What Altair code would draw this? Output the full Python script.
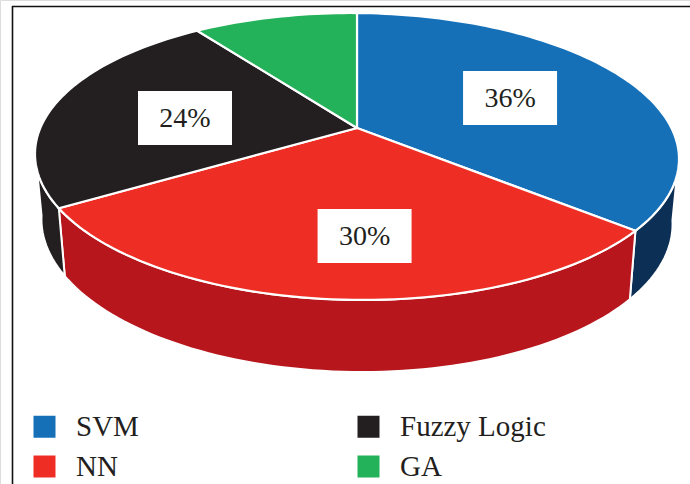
import math

import altair as alt
import pandas as pd

# Market share of each technique, clockwise from twelve o'clock.
methods = ["SVM", "NN", "Fuzzy Logic", "GA"]
shares = [36, 30, 24, 10]
top_colors = ["#1570b8", "#ee2d24", "#231f20", "#23b15a"]
wall_colors = ["#0c2f55", "#b7161c", "#231f20"]
wall_methods = ["SVM", "NN", "Fuzzy Logic"]

labelled_methods = ["SVM", "NN", "Fuzzy Logic"]
label_texts = ["36%", "30%", "24%"]

# Where each label box sits on the tilted disc, in disc units.
label_x = [0.485, 0.024, -0.545]
label_y = [-0.217, 0.784, -0.073]

# Perspective of the disc: foreshortening of the upper face and of the base.
TILT = 0.1986
ROLL = 0.018
BASE_X_SCALE = 0.98
BASE_Y_SCALE = 144.5 / 137.8
BASE_Y_SHIFT = (191.7 - 128) / 137.8

# The side wall is only seen between these bearings.
WALL_FROM = {"SVM": 100.0, "NN": None, "Fuzzy Logic": None}
WALL_TO = {"SVM": None, "NN": None, "Fuzzy Logic": 260.0}

PX_PER_X = 315.6
PX_PER_Y = 137.8
CENTRE_X = 357
CENTRE_Y = 128


def rim(angle, x_scale=1.0, y_scale=1.0, y_shift=0.0):
    rad = math.radians(angle)
    u, v = math.sin(rad), -math.cos(rad)
    depth = 1 - TILT * v
    x = x_scale * u / depth
    return x, y_shift + y_scale * v / depth + ROLL * x


def sweep(start, end, step=1.5):
    n = max(2, int(abs(end - start) / step) + 1)
    return [start + (end - start) * i / (n - 1) for i in range(n)]


edges = [0.0]
for share in shares:
    edges.append(edges[-1] + share * 3.6)

top_rows = []
wall_rows = []
for i, method in enumerate(methods):
    start, end = edges[i], edges[i + 1]
    outline = [(0.0, 0.0)] + [rim(a) for a in sweep(start, end)] + [(0.0, 0.0)]
    for k, (x, y) in enumerate(outline):
        top_rows.append({"method": method, "k": k, "x": x, "y": y})
    if method in wall_methods:
        a0 = WALL_FROM[method] if WALL_FROM[method] is not None else start
        a1 = WALL_TO[method] if WALL_TO[method] is not None else end
        angles = sweep(a0, a1)
        outline = [rim(a) for a in angles]
        outline += [rim(a, BASE_X_SCALE, BASE_Y_SCALE, BASE_Y_SHIFT) for a in reversed(angles)]
        outline.append(outline[0])
        for k, (x, y) in enumerate(outline):
            wall_rows.append({"method": method, "k": k, "x": x, "y": y})

top_df = pd.DataFrame(top_rows)
wall_df = pd.DataFrame(wall_rows)
label_df = pd.DataFrame(
    {"method": labelled_methods, "text": label_texts, "x": label_x, "y": label_y}
)

W, H = 690, 484
x_enc = alt.X(
    "x:Q",
    axis=None,
    scale=alt.Scale(
        domain=[-CENTRE_X / PX_PER_X, (W - CENTRE_X) / PX_PER_X], nice=False, zero=False
    ),
)
y_enc = alt.Y(
    "y:Q",
    axis=None,
    scale=alt.Scale(
        domain=[-CENTRE_Y / PX_PER_Y, (H - CENTRE_Y) / PX_PER_Y],
        nice=False,
        zero=False,
        reverse=True,
    ),
)

layers = []

# Side walls go first so the upper face can overlap them.
for method, color in zip(wall_methods, wall_colors):
    layers.append(
        alt.Chart(wall_df[wall_df.method == method])
        .mark_line(fill=color, stroke="white", strokeWidth=2)
        .encode(x=x_enc, y=y_enc, order="k:Q")
    )

# Upper face of the disc, one filled outline per technique.
layers.append(
    alt.Chart(top_df)
    .mark_line(stroke="white", strokeWidth=2.2)
    .encode(
        x=x_enc,
        y=y_enc,
        order="k:Q",
        fill=alt.Fill(
            "method:N",
            scale=alt.Scale(domain=methods, range=top_colors),
            legend=alt.Legend(
                title=None,
                orient="none",
                legendX=30,
                legendY=412,
                columns=2,
                symbolType="square",
                symbolSize=484,
                symbolStrokeWidth=0,
                labelFont="Liberation Serif",
                labelFontSize=29,
                labelColor="#231f20",
                labelOffset=17,
                rowPadding=10,
                columnPadding=215,
                padding=0,
            ),
        ),
    )
)

# White boxes with the percentage printed in them.
layers.append(
    alt.Chart(label_df)
    .mark_rect(color="white", width=94, height=54)
    .encode(x=x_enc, y=y_enc)
)
layers.append(
    alt.Chart(label_df)
    .mark_text(font="Liberation Serif", fontSize=28, color="#231f20", dy=1)
    .encode(x=x_enc, y=y_enc, text="text:N")
)

# Thin frame on the left and top of the figure.
layers.append(
    alt.Chart(pd.DataFrame({"a": [0]}))
    .mark_rule(color="#111111", strokeWidth=1.6)
    .encode(x=alt.value(12.5), y=alt.value(6), y2=alt.value(H))
)
layers.append(
    alt.Chart(pd.DataFrame({"a": [0]}))
    .mark_rule(color="#111111", strokeWidth=1.6)
    .encode(x=alt.value(12), x2=alt.value(W), y=alt.value(6.5))
)

chart = (
    alt.layer(*layers)
    .properties(width=W, height=H, padding=0, autosize=alt.AutoSizeParams(type="none"))
    .configure_view(stroke=None)
    .configure(background="white")
)

chart.save("out.html", embed_options={"renderer": "svg", "actions": False})
